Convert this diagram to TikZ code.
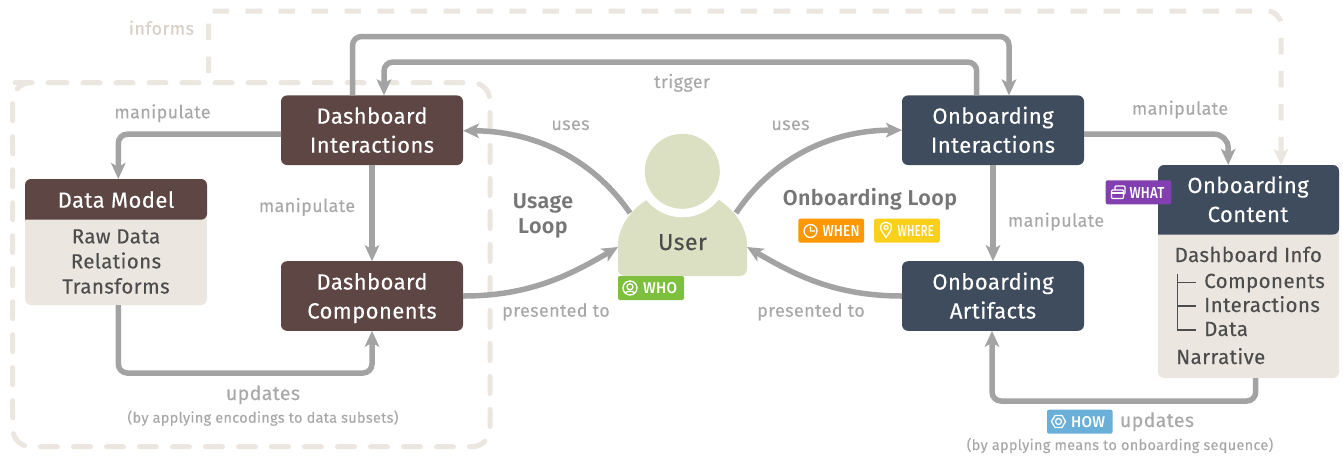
\documentclass[tikz,border=0pt]{standalone}
\usepackage{fontspec}
\usepackage{graphicx}
\usetikzlibrary{arrows.meta}
\setmainfont[LetterSpace=2,FakeBold=0.2]{Fira Sans}
\newfontfamily\boldf[LetterSpace=2]{Fira Sans SemiBold}
\newfontfamily\medf[LetterSpace=2]{Fira Sans Medium}
\definecolor{brownc}{HTML}{5D4643}
\definecolor{navyc}{HTML}{3E4C5E}
\definecolor{beigec}{HTML}{EBE6E0}
\definecolor{userc}{HTML}{DBE0C3}
\definecolor{arrowc}{HTML}{A3A3A3}
\definecolor{labelc}{HTML}{A8A8A8}
\definecolor{darkc}{HTML}{4D4D4D}
\definecolor{loopc}{HTML}{767676}
\definecolor{informc}{HTML}{D8CFC6}
\definecolor{whoc}{HTML}{7DC03D}
\definecolor{whenc}{HTML}{FF9800}
\definecolor{wherec}{HTML}{FBD01A}
\definecolor{whatc}{HTML}{823FB0}
\definecolor{howc}{HTML}{6AAFD8}
\newcommand\twoln[2]{\rule{0pt}{21pt}#1\\#2\rule[-5pt]{0pt}{5pt}}
\newcommand\tagword[2]{\resizebox{#1pt}{11pt}{\medf #2}}
\tikzset{
  conn/.style={draw=arrowc,line width=5.5pt,rounded corners=9pt,-{Stealth[length=16pt,width=14.5pt,inset=4pt]}},
  box/.style={rounded corners=6pt,minimum width=182pt,minimum height=69.6pt,inner sep=0pt,outer sep=0pt,text=white,align=center,font=\fontsize{22}{29}\selectfont},
  browny/.style={box,fill=brownc},
  navy/.style={box,fill=navyc},
  lab/.style={text=labelc,inner sep=0pt,anchor=base,font=\fontsize{18}{22}\selectfont},
  biglab/.style={lab,font=\fontsize{19.5}{22}\selectfont},
  sublab/.style={text=labelc,inner sep=0pt,anchor=base,font=\fontsize{14.5}{18}\selectfont},
  bodytxt/.style={text=darkc,inner sep=0pt,anchor=base,font=\fontsize{20.5}{25}\selectfont},
  bodyleft/.style={bodytxt,anchor=base west},
  headtxt/.style={text=white,inner sep=0pt,anchor=base,font=\fontsize{22}{29}\selectfont},
  boldlab/.style={text=loopc,inner sep=0pt,anchor=base,font=\fontsize{21.5}{25}\boldf},
  tagbox/.style={rounded corners=2pt,minimum width=65.6pt,minimum height=24pt,inner sep=0pt,outer sep=0pt},
  tagtxt/.style={text=white,inner sep=0pt,anchor=base},
  icon/.style={draw=white,line width=1.3pt},
  dashbox/.style={draw=beigec,line width=5pt,line cap=round,dash pattern=on 17pt off 16pt},
  dashlink/.style={draw=beigec,line width=5pt,dash pattern=on 16.5pt off 16.5pt},
}
\begin{document}
\begin{tikzpicture}[x=1pt,y=-1pt]
\useasboundingbox (0,0) rectangle (1343,456);
% anchors for the free bends
\coordinate (loopA) at (680,36.5);
\coordinate (trigA) at (680,62);
\coordinate (updA) at (250,373);
\coordinate (updB) at (1120,401);
\coordinate (infS) at (208.7,73);
\coordinate (infL) at (208.7,11);
\coordinate (infR) at (1281,11);
% dashed region
\draw[dashbox,rounded corners=18pt] (32,82.7) -- (490,82.7) -- (490,446.7) -- (12.7,446.7) -- (12.7,82.7) -- cycle;
% main nodes
\node[browny] (di) at (372,130.2) {\twoln{Dashboard}{Interactions}};
\node[browny] (dc) at (372,296) {\twoln{Dashboard}{Components}};
\node[navy] (oi) at (993,130.2) {\twoln{Onboarding}{Interactions}};
\node[navy] (oa) at (993,296) {\twoln{Onboarding}{Artifacts}};
\path[fill=beigec,rounded corners=6pt] (25,179) rectangle (207,305);
\path[fill=brownc,rounded corners=6pt] (25,219.7) -- (25,179) -- (207,179) -- (207,219.7) [sharp corners] -- cycle;
\node[minimum width=182pt,minimum height=126pt,inner sep=0pt,outer sep=0pt] (dm) at (116,242) {};
\path[fill=beigec,rounded corners=6pt] (1158,165) rectangle (1339,378);
\path[fill=navyc,rounded corners=6pt] (1158,234.5) -- (1158,165) -- (1339,165) -- (1339,234.5) [sharp corners] -- cycle;
\node[minimum width=181pt,minimum height=213pt,inner sep=0pt,outer sep=0pt] (oc) at (1248.5,271.5) {};
% user
\path[fill=userc] (618,276) -- (618,245) .. controls (618,228) and (630,210) .. (646.7,200) -- (719,200) .. controls (735,210) and (747,228) .. (747,245) [rounded corners=7pt] -- (747,276) -- (618,276) [sharp corners] -- cycle;
\path[fill=white] (682.3,171.3) circle[radius=46pt];
\path[fill=userc] (682.3,171.3) circle[radius=37.5pt];
\node[minimum width=129pt,minimum height=68pt,inner sep=0pt,outer sep=0pt,text=darkc,text height=16pt,text depth=0pt,font=\fontsize{23}{28}\selectfont] (user) at (682.5,242) {User};
% informs link
\draw[dashlink,-{Stealth[length=16pt,width=14.5pt,inset=4pt]}] (infS) -- (infL) [rounded corners=14pt] -- (infR) -- ([xshift=32.5pt]oc.north);
% connectors
\draw[conn] ([yshift=-4pt]di.west) -| ([xshift=2.3pt]dm.north);
\draw[conn] (di.south) -- (dc.north);
\draw[conn] ([xshift=2.3pt]dm.south) |- (updA) -| (dc.south);
\draw[conn] ([xshift=-19.5pt]di.north) |- (loopA) -| ([xshift=16pt]oi.north);
\draw[conn] ([xshift=-16.3pt]oi.north) |- (trigA) -| ([xshift=12pt]di.north);
\draw[conn,rounded corners=14pt] ([yshift=-4pt]oi.east) -| ([xshift=-20.3pt]oc.north);
\draw[conn] (oi.south) -- (oa.north);
\draw[conn] ([xshift=7.2pt]oc.south) |- (updB) -| ([xshift=-1pt]oa.south);
\draw[conn] ([shift={(-52.5pt,-5pt)}]user.north) .. controls (590,155) and (530,131) .. ([yshift=-0.5pt]di.east);
\draw[conn] ([shift={(53.5pt,-5pt)}]user.north) .. controls (775,155) and (835,130) .. (oi.west);
\draw[conn] (dc.east) .. controls (530,296) and (570,275) .. ([yshift=-5pt]user.west);
\draw[conn] (oa.west) .. controls (835,296) and (795,275) .. ([yshift=-5pt]user.east);
% labels
\node[lab,text=informc] (t0) at (161.5,34.7) {informs};
\node[lab] (t1) at (162.5,118.3) {manipulate};
\node[lab] (t2) at (307,212) {manipulate};
\node[lab] (t3) at (1180,114.7) {manipulate};
\node[lab] (t4) at (1056,226.7) {manipulate};
\node[lab] (t5) at (682,88) {trigger};
\node[lab] (t6) at (570.5,130) {uses};
\node[lab] (t7) at (790.5,130) {uses};
\node[lab] (t8) at (556,316.7) {presented to};
\node[lab] (t9) at (811,316.7) {presented to};
\node[biglab] (t10) at (263,400) {updates};
\node[sublab] (t11) at (263,422.7) {(by applying encodings to data subsets)};
\node[biglab] (t12) at (1157,427) {updates};
\node[sublab] (t13) at (1120,450) {(by applying means to onboarding sequence)};
\node[boldlab] (t14a) at (543,208) {Usage};
\node[boldlab] (t14b) at (543,233.5) {Loop};
\node[boldlab] (t15) at (870,205.5) {Onboarding Loop};
% data model text
\node[headtxt] (t16) at (116,207.7) {Data Model};
\node[bodytxt] (t17) at (116,243.4) {Raw Data};
\node[bodytxt] (t18) at (116,268.4) {Relations};
\node[bodytxt] (t19) at (116,293.5) {Transforms};
% onboarding content text
\node[headtxt] (t20a) at (1248,193) {Onboarding};
\node[headtxt] (t20b) at (1248,222) {Content};
\node[bodyleft] (t21) at (1174.5,262) {Dashboard Info};
\node[bodyleft] (t22) at (1204,288) {Components};
\node[bodyleft] (t23) at (1204,312) {Interactions};
\node[bodyleft] (t24) at (1204,336) {Data};
\node[bodyleft] (t25) at (1176,364) {Narrative};
\draw[darkc,line width=1.3pt] (1177.7,273.7) -- (1177.7,330) -- (1195.7,330) (1177.7,282.7) -- (1195.7,282.7) (1177.7,306) -- (1195.7,306);
% tags
\path[fill=whoc,rounded corners=2pt] (618,276) rectangle (684,300);
\node[tagtxt] (w1) at (660,293.3) {\tagword{34}{WHO}};
\draw[icon] (630,288) circle[radius=7pt] (630,286.8) circle[radius=3pt];
\draw[icon] (625.3,293) .. controls (626.5,290.6) and (633.5,290.6) .. (634.7,293);
\node[tagbox,fill=whenc] (b2) at (831.2,230.7) {};
\node[tagtxt] (w2) at (841,236) {\tagword{37}{WHEN}};
\draw[icon] (810.5,231) circle[radius=6.5pt] (810.5,226.5) -- (810.5,231) -- (815,231);
\node[tagbox,fill=wherec] (b3) at (907,230.7) {};
\node[tagtxt] (w3) at (915.7,236) {\tagword{36}{WHERE}};
\draw[icon] (886,237.5) .. controls (883,233) and (880.5,230) .. (880.5,227.5) .. controls (880.5,220.5) and (891.5,220.5) .. (891.5,227.5) .. controls (891.5,230) and (889,233) .. (886,237.5) -- cycle (886,227.5) circle[radius=2pt];
\node[tagbox,fill=whatc] (b4) at (1138.5,192.3) {};
\node[tagtxt] (w4) at (1147,198.3) {\tagword{35}{WHAT}};
\draw[icon,rounded corners=1pt] (1111.5,190) rectangle (1123.5,198.5);
\draw[icon,rounded corners=1pt] (1115,190) -- (1115,186) -- (1125,186) -- (1125,194) -- (1123.5,194);
\draw[icon] (1111.5,193) -- (1123.5,193);
\node[tagbox,fill=howc] (b5) at (1079.8,421.7) {};
\node[tagtxt] (w5) at (1088,427) {\tagword{34}{HOW}};
\draw[icon,line join=round] (1051.5,421.5) -- (1055,415.5) -- (1062,415.5) -- (1065.5,421.5) -- (1062,427.5) -- (1055,427.5) -- cycle (1058.5,421.5) circle[radius=3pt];
\end{tikzpicture}
\end{document}
